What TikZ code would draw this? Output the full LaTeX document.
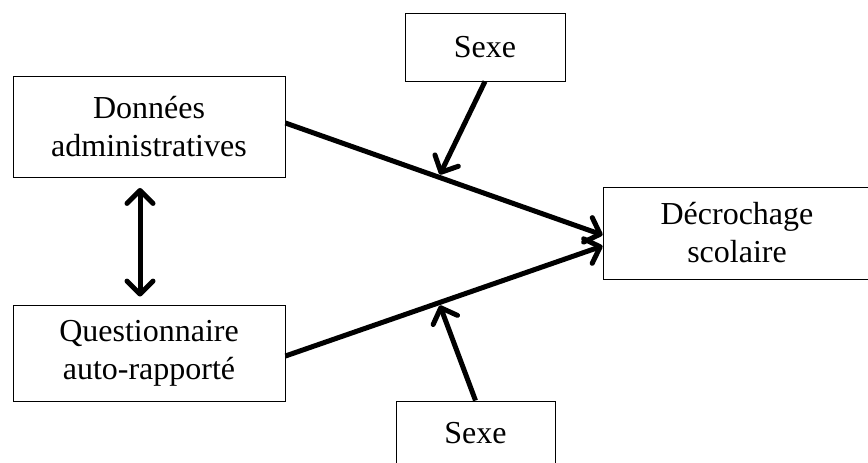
\documentclass[tikz,border=0pt]{standalone}
\usepackage{fontspec}
\setmainfont{Liberation Serif}
\usetikzlibrary{arrows.meta,calc}
\begin{document}
\begin{tikzpicture}[x=1pt,y=-1pt,
  box/.style={draw, line width=0.9pt, align=center, font=\fontsize{32}{38}\selectfont, inner sep=0pt},
  tipb/.tip={Straight Barb[length=13pt,width=26pt,round]},
  link/.style={line width=5pt, -tipb},
  dlink/.style={line width=5pt, tipb-tipb}
]
\useasboundingbox (0,0) rectangle (868,463);
\clip (0,0) rectangle (868,463);
\node[box, minimum width=272, minimum height=101] (don) at (149,127) {Données\\administratives};
\node[box, minimum width=272, minimum height=96] (que) at (149,353) {Questionnaire\\auto-rapporté};
\node[box, minimum width=160, minimum height=68] (sx1) at (485,47) {Sexe};
\node[box, minimum width=159, minimum height=64] (sx2) at (475.5,433) {Sexe};
\node[box, minimum width=268, minimum height=92] (dec) at (737,233) {Décrochage\\scolaire};
\coordinate (a1) at ($(don.east)+(0,-4)$);
\coordinate (b1) at ($(dec.west)+(0,2)$);
\coordinate (a2) at ($(que.east)+(0,3)$);
\coordinate (b2) at ($(dec.west)+(0,13)$);
\coordinate (m1) at ($(a1)!0.487!(b1)$);
\coordinate (m2) at ($(a2)!0.487!(b2)$);
\draw[link] (a1) -- (b1);
\draw[link] (a2) -- (b2);
\draw[link] (sx1.south) -- ($(m1)+(0,-3)$);
\draw[link] (sx2.north) -- ($(m2)+(0,3)$);
\draw[dlink] ($(don.south)+(-9,10)$) -- ($(que.north)+(-9,-8)$);
\end{tikzpicture}
\end{document}
